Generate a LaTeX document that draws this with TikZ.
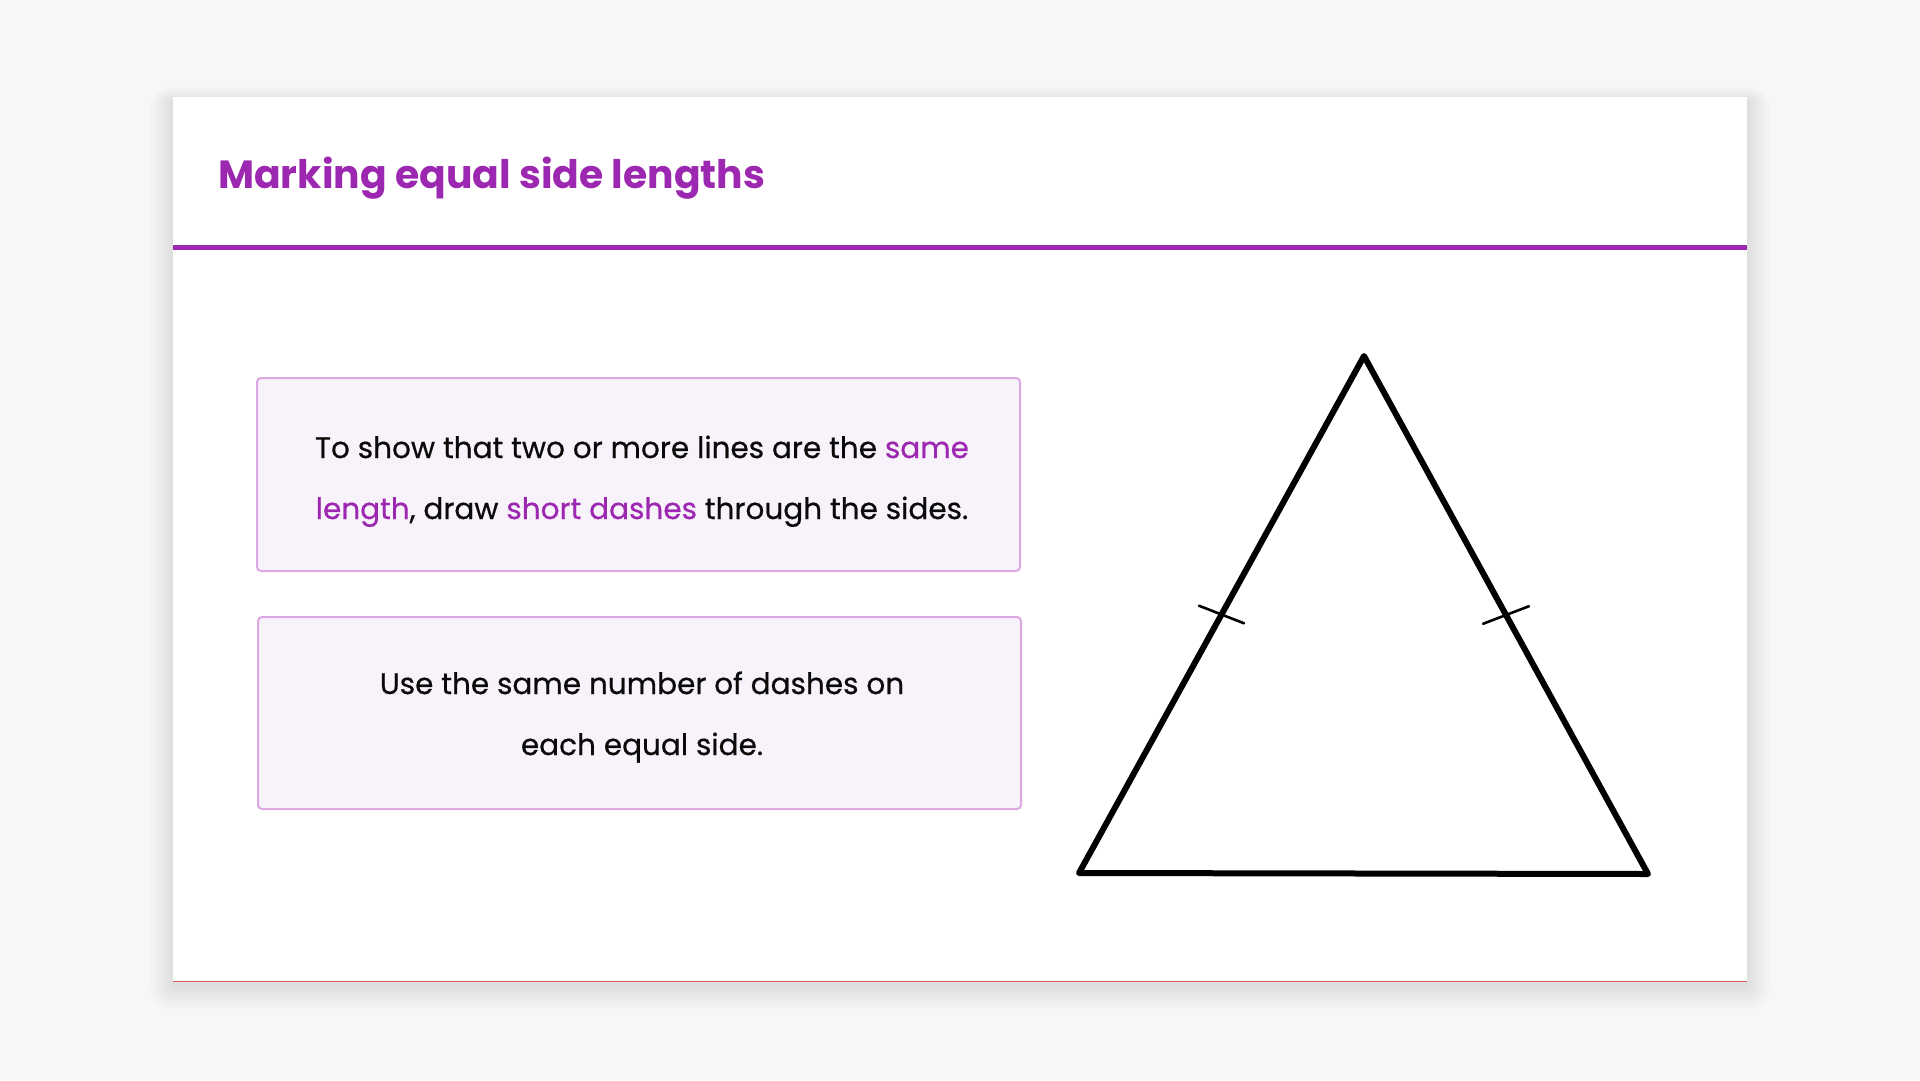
\documentclass[tikz,border=0pt]{standalone}
\usepackage{fontspec}
\setmainfont{Poppins}
\newfontfamily\bodyfont{Poppins}[FakeBold=0.55]
\usetikzlibrary{calc}
\definecolor{pur}{HTML}{9C27B0}
\definecolor{bgc}{HTML}{F7F7F7}
\definecolor{boxfill}{HTML}{F8F3FA}
\definecolor{boxline}{HTML}{DBA8E2}
\definecolor{ink}{HTML}{0A0A0A}
\definecolor{redline}{HTML}{D9655A}
\tikzset{
  shadowlayer/.style={fill=black, fill opacity=0.007},
  infobox/.style={draw=boxline, line width=2pt, fill=boxfill, rounded corners=4pt, inner sep=0pt},
  body/.style={anchor=base, inner sep=0pt, text=ink, font=\bodyfont\fontsize{29.5}{36}\selectfont},
  titletext/.style={anchor=base west, inner sep=0pt, text=pur, font=\fontsize{39.3}{47}\selectfont\bfseries},
  triline/.style={draw=black, line width=6pt, line join=round, line cap=round},
  tickline/.style={draw=black, line width=2.6pt, line cap=round}
}
\begin{document}
\begin{tikzpicture}[x=1pt,y=-1pt]
\useasboundingbox (0,0) rectangle (1920,1080);
\fill[bgc] (0,0) rectangle (1920,1080);
\foreach \i in {2,4,...,24} {
  \fill[shadowlayer, rounded corners=\i pt] (173-\i,97-\i*0.6+4) rectangle (1747+\i,982+\i+4);
}
\fill[white] (173,97) rectangle (1747,982);
\draw[redline, line width=1.2pt] (173,981.4) -- (1747,981.4);
% header
\node[titletext] (title) at (218,188) {Marking equal side lengths};
\draw[pur, line width=5pt] (173,247) -- (1747,247);
% boxes
\node[infobox, minimum width=763pt, minimum height=193pt] (b1) at (638.5,474.5) {};
\node[infobox, minimum width=763pt, minimum height=192pt] (b2) at (639.5,713) {};
\node[body] (t1a) at (642,458) {To show that two or more lines are the \textcolor{pur}{same}};
\node[body] (t1b) at (642,519) {\textcolor{pur}{length}, draw \textcolor{pur}{short dashes} through the sides.};
\node[body] (t2a) at (642,694) {Use the same number of dashes on};
\node[body] (t2b) at (642,755) {each equal side.};
% triangle
\coordinate (A) at (1364,356);
\coordinate (B) at (1079,873);
\coordinate (C) at (1648,874);
\draw[triline] (A) -- (B) -- (C) -- cycle;
\coordinate (M1) at ($(A)!0.5!(B)$);
\coordinate (M2) at ($(A)!0.5!(C)$);
\draw[tickline] ($(M1)+(-22.5,-8.8)$) -- ($(M1)+(22.5,8.8)$);
\draw[tickline] ($(M2)+(-23,8.8)$) -- ($(M2)+(23,-8.8)$);
\end{tikzpicture}
\end{document}
